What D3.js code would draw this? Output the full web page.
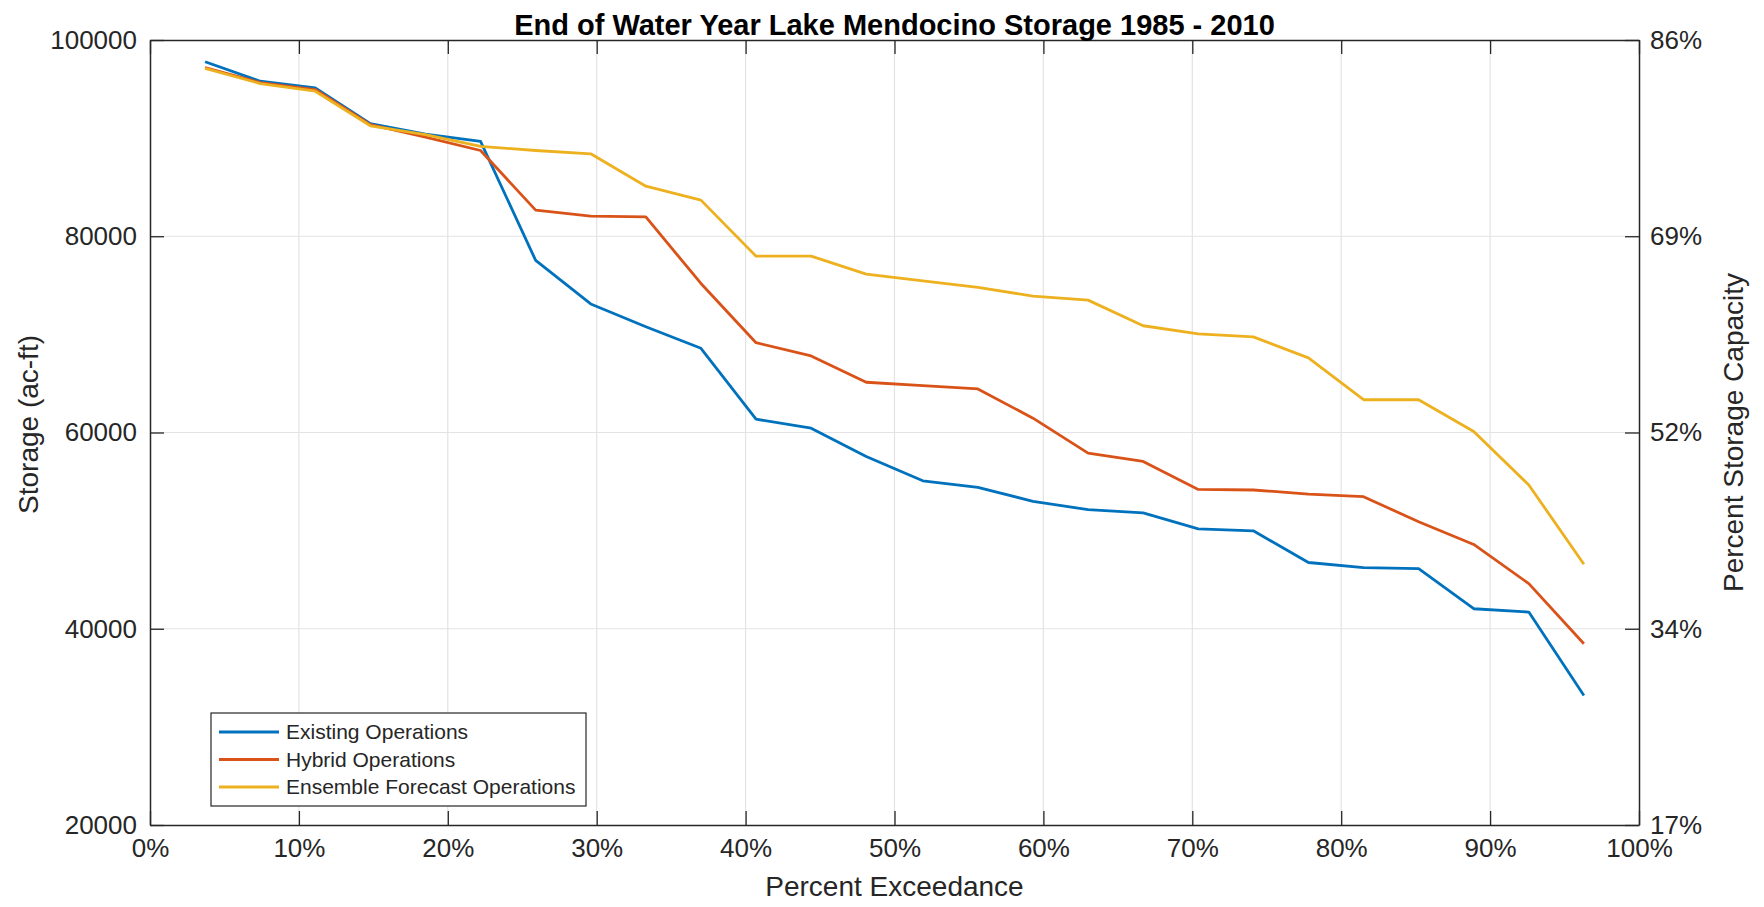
<!DOCTYPE html>
<html>
<head>
<meta charset="utf-8">
<script src="https://cdn.jsdelivr.net/npm/d3@7"></script>
<style>
  html, body { margin: 0; padding: 0; background: #fff; }
  svg { display: block; font-family: "Liberation Sans", Arial, Helvetica, sans-serif; }
</style>
</head>
<body>
<svg id="chart" width="1764" height="907"></svg>
<script>
// Exceedance rank of each end-of-water-year value (26 years, i / 27)
const exceedance = [0.037, 0.074, 0.111, 0.148, 0.185, 0.222, 0.259, 0.296, 0.333, 0.370,
                    0.407, 0.444, 0.481, 0.519, 0.556, 0.593, 0.630, 0.667, 0.704, 0.741,
                    0.778, 0.815, 0.852, 0.889, 0.926, 0.963];

// Storage (ac-ft) sorted from wettest to driest year
const existingOps = [97780, 95800, 95120, 91470, 90400, 89660, 77540, 73100, 70780, 68580,
                     61360, 60440, 57560, 55080, 54410, 52980, 52140, 51800, 50170, 49980,
                     46750, 46230, 46130, 42040, 41700, 33190];
const hybridOps   = [97200, 95650, 94950, 91370, 90100, 88740, 82660, 82050, 81970, 75190,
                     69150, 67800, 65120, 64780, 64440, 61460, 57900, 57050, 54200, 54140,
                     53730, 53460, 50900, 48590, 44600, 38470];
const ensembleOps = [97100, 95560, 94780, 91260, 90350, 89150, 88740, 88400, 85100, 83680,
                     77970, 77970, 76140, 75460, 74780, 73900, 73490, 70880, 70060, 69740,
                     67600, 63340, 63340, 60100, 54650, 46580];

const seriesNames  = ["Existing Operations", "Hybrid Operations", "Ensemble Forecast Operations"];
const seriesColors = ["#0072BD", "#D95319", "#EDB120"];

const xTicks = [0, 0.1, 0.2, 0.3, 0.4, 0.5, 0.6, 0.7, 0.8, 0.9, 1.0];
const yTicks = [20000, 40000, 60000, 80000, 100000];
const rightTickLabels = ["17%", "34%", "52%", "69%", "86%"];

const titleText = "End of Water Year Lake Mendocino Storage 1985 - 2010";
const xLabel = "Percent Exceedance";
const yLabel = "Storage (ac-ft)";
const y2Label = "Percent Storage Capacity";

// ---- layout ----
const svg = d3.select("#chart");
const plotL = 150, plotR = 1639, plotT = 40, plotB = 825;
const axisColor = "#262626";
const gridColor = "#e3e3e3";
const tickLen = 14;

const x = d3.scaleLinear().domain([0, 1]).range([plotL, plotR]);
const y = d3.scaleLinear().domain([20000, 100000]).range([plotB, plotT]);

// grid
const grid = svg.append("g");
grid.selectAll("line.vx").data(xTicks.slice(1, -1)).join("line")
  .attr("x1", d => x(d)).attr("x2", d => x(d))
  .attr("y1", plotT).attr("y2", plotB)
  .attr("stroke", gridColor).attr("stroke-width", 1.2);
grid.selectAll("line.hy").data(yTicks.slice(1, -1)).join("line")
  .attr("y1", d => y(d)).attr("y2", d => y(d))
  .attr("x1", plotL).attr("x2", plotR)
  .attr("stroke", gridColor).attr("stroke-width", 1.2);

// series lines
const line = d3.line().x((d, i) => x(exceedance[i])).y(d => y(d));
[existingOps, hybridOps, ensembleOps].forEach((vals, k) => {
  svg.append("path").datum(vals)
    .attr("d", line)
    .attr("fill", "none")
    .attr("stroke", seriesColors[k])
    .attr("stroke-width", 2.8)
    .attr("stroke-linejoin", "round");
});

// axes (ticks pointing inward)
const fmtPct = d3.format(".0%");
const xAxisB = d3.axisBottom(x).tickValues(xTicks).tickFormat(fmtPct)
  .tickSizeInner(-tickLen).tickSizeOuter(0).tickPadding(14);
const xAxisT = d3.axisTop(x).tickValues(xTicks).tickFormat("")
  .tickSizeInner(-tickLen).tickSizeOuter(0);
const yAxisL = d3.axisLeft(y).tickValues(yTicks).tickFormat(d3.format("d"))
  .tickSizeInner(-tickLen).tickSizeOuter(0).tickPadding(13);
const yAxisR = d3.axisRight(y).tickValues(yTicks).tickFormat((d, i) => rightTickLabels[i])
  .tickSizeInner(-tickLen).tickSizeOuter(0).tickPadding(11);

function styleAxis(g) {
  g.select(".domain").attr("stroke", axisColor).attr("stroke-width", 1.5);
  g.selectAll(".tick line").attr("stroke", axisColor).attr("stroke-width", 1.3);
  g.selectAll(".tick text").attr("fill", axisColor)
    .style("font-size", "26px").style("font-family", "'Liberation Sans', Arial, sans-serif");
}

svg.append("g").attr("transform", `translate(0,${plotB})`).call(xAxisB).call(styleAxis);
svg.append("g").attr("transform", `translate(0,${plotT})`).call(xAxisT).call(styleAxis);
svg.append("g").attr("transform", `translate(${plotL},0)`).call(yAxisL).call(styleAxis);
svg.append("g").attr("transform", `translate(${plotR},0)`).call(yAxisR).call(styleAxis);

// titles
svg.append("text").attr("x", (plotL + plotR) / 2).attr("y", 35)
  .attr("text-anchor", "middle").attr("fill", "#000")
  .style("font-size", "29px").style("font-weight", "bold")
  .text(titleText);

svg.append("text").attr("x", (plotL + plotR) / 2).attr("y", 896)
  .attr("text-anchor", "middle").attr("fill", axisColor)
  .style("font-size", "28px").text(xLabel);

svg.append("text").attr("transform", `translate(38,${(plotT + plotB) / 2 - 8}) rotate(-90)`)
  .attr("text-anchor", "middle").attr("fill", axisColor)
  .style("font-size", "28px").text(yLabel);

svg.append("text").attr("transform", `translate(1743,${(plotT + plotB) / 2}) rotate(-90)`)
  .attr("text-anchor", "middle").attr("fill", axisColor)
  .style("font-size", "28px").text(y2Label);

// legend
const lg = svg.append("g");
lg.append("rect").attr("x", 211).attr("y", 713).attr("width", 375).attr("height", 93)
  .attr("fill", "#fff").attr("stroke", axisColor).attr("stroke-width", 1.2);
seriesNames.forEach((name, k) => {
  const cy = 732 + k * 27.5;
  lg.append("line").attr("x1", 219).attr("x2", 279).attr("y1", cy).attr("y2", cy)
    .attr("stroke", seriesColors[k]).attr("stroke-width", 2.8);
  lg.append("text").attr("x", 286).attr("y", cy).attr("dy", "0.35em")
    .attr("fill", axisColor).style("font-size", "21px").text(name);
});
</script>
</body>
</html>
